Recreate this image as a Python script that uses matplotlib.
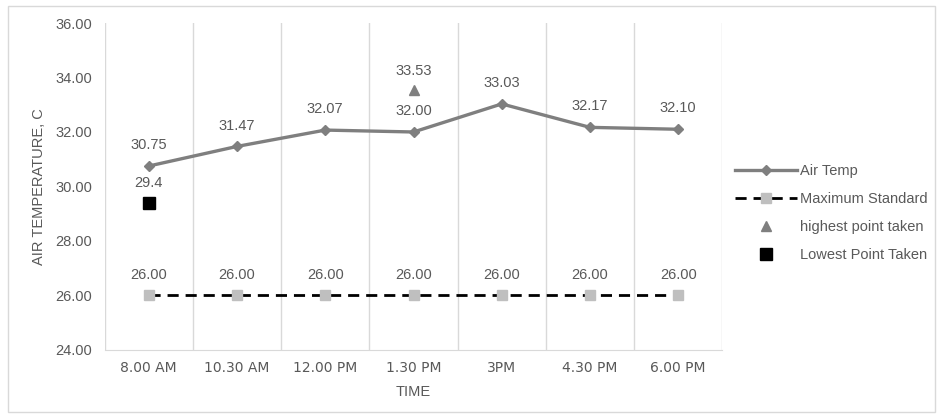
import matplotlib.pyplot as plt
from matplotlib.patches import Rectangle

plt.rcParams['font.family'] = ['Liberation Sans', 'DejaVu Sans']

# data
times = ['8.00 AM', '10.30 AM', '12.00 PM', '1.30 PM', '3PM', '4.30 PM', '6.00 PM']
air_temp = [30.75, 31.47, 32.07, 32.00, 33.03, 32.17, 32.10]
max_standard = [26.00, 26.00, 26.00, 26.00, 26.00, 26.00, 26.00]
highest_idx = 3
highest_val = 33.53
lowest_idx = 0
lowest_val = 29.4

txt = '#595959'
grid = '#d9d9d9'

fig = plt.figure(figsize=(9.43, 4.19), dpi=100)
fig.patches.append(Rectangle((0.008, 0.017), 0.984, 0.968, transform=fig.transFigure,
                             fill=False, edgecolor=grid, linewidth=1))
ax = fig.add_axes([0.111, 0.165, 0.655, 0.78])

x = list(range(len(times)))

ax.plot(x, max_standard, color='black', linestyle=(0, (4, 2.5)), linewidth=2,
        marker='s', markersize=7, markerfacecolor='#bfbfbf', markeredgecolor='#bfbfbf',
        label='Maximum Standard', zorder=3)
ax.plot(x, air_temp, color='#7f7f7f', linewidth=2.4, marker='D', markersize=5.5,
        label='Air Temp', zorder=4)
ax.plot([highest_idx], [highest_val], linestyle='none', marker='^', markersize=7.5,
        color='#7f7f7f', label='highest point taken', zorder=4)
ax.plot([lowest_idx], [lowest_val], linestyle='none', marker='s', markersize=8.5,
        color='black', label='Lowest Point Taken', zorder=4)

fs = 10.5
for i, v in enumerate(air_temp):
    ax.annotate(f'{v:.2f}', (i, v), xytext=(0, 10), textcoords='offset points',
                ha='center', va='bottom', color=txt, fontsize=fs)
for i, v in enumerate(max_standard):
    ax.annotate(f'{v:.2f}', (i, v), xytext=(0, 10), textcoords='offset points',
                ha='center', va='bottom', color=txt, fontsize=fs)
ax.annotate(f'{highest_val:.2f}', (highest_idx, highest_val), xytext=(0, 9),
            textcoords='offset points', ha='center', va='bottom', color=txt, fontsize=fs)
ax.annotate(f'{lowest_val}', (lowest_idx, lowest_val), xytext=(0, 9),
            textcoords='offset points', ha='center', va='bottom', color=txt, fontsize=fs)

ax.set_xlim(-0.5, len(times) - 0.5)
ax.set_ylim(24, 36)
ax.set_yticks([24, 26, 28, 30, 32, 34, 36])
ax.set_yticklabels([f'{t:.2f}' for t in [24, 26, 28, 30, 32, 34, 36]], fontsize=fs)
ax.set_xticks(x)
ax.set_xticklabels(times, fontsize=10, family=['DejaVu Sans'])
for b in [i - 0.5 for i in range(len(times) + 1)]:
    ax.axvline(b, color=grid, linewidth=1, zorder=1)

for s in ['top', 'right', 'left']:
    ax.spines[s].set_visible(False)
ax.spines['bottom'].set_color(grid)
ax.tick_params(length=0, colors=txt)
ax.tick_params(axis='y', pad=9)
ax.tick_params(axis='x', pad=8)

ax.set_xlabel('TIME', color=txt, fontsize=10.5, labelpad=7)
ax.set_ylabel('AIR TEMPERATURE, C', color=txt, fontsize=10.5, labelpad=7)

h, l = ax.get_legend_handles_labels()
order = [1, 0, 2, 3]
leg = fig.legend([h[i] for i in order], [l[i] for i in order], loc='center left',
                 bbox_to_anchor=(0.766, 0.492), frameon=False, fontsize=10.5,
                 labelcolor=txt, handlelength=4.2, labelspacing=0.95, handletextpad=0.2)

fig.savefig('out.png', dpi=100)
